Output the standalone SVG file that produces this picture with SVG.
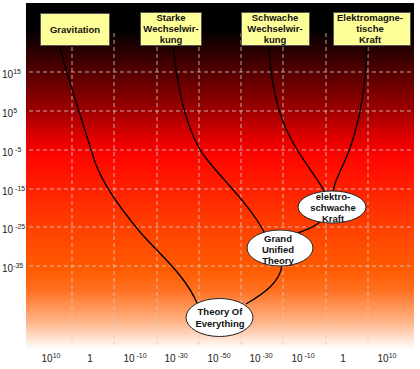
<svg xmlns="http://www.w3.org/2000/svg" width="420" height="369" viewBox="0 0 420 369">
<defs>
<linearGradient id="bg" x1="0" y1="0" x2="0" y2="1">
<stop offset="0" stop-color="#000000"/>
<stop offset="0.078" stop-color="#000000"/>
<stop offset="0.199" stop-color="#550000"/>
<stop offset="0.311" stop-color="#a00000"/>
<stop offset="0.409" stop-color="#f00000"/>
<stop offset="0.452" stop-color="#ff0800"/>
<stop offset="0.646" stop-color="#ff4000"/>
<stop offset="0.769" stop-color="#ff5c00"/>
<stop offset="0.827" stop-color="#ff7020"/>
<stop offset="0.914" stop-color="#ffb080"/>
<stop offset="0.986" stop-color="#fff4ee"/>
<stop offset="1" stop-color="#ffffff"/>
</linearGradient>
</defs>
<style>
.grid line{stroke:#d0d0d0;stroke-width:1;stroke-dasharray:4,3;stroke-opacity:0.8}
.tick{font-family:"Liberation Sans",Arial,sans-serif;font-size:10px;fill:#222}
.sup{font-size:7px}
.box rect{fill:#ffff99;stroke:#555;stroke-width:1}
.node ellipse{fill:#fff;stroke:#222;stroke-width:1}
.lbl{font-family:"Liberation Sans",Arial,sans-serif;font-size:9.5px;font-weight:bold;fill:#111;text-anchor:middle}
.edges path{fill:none;stroke:#000;stroke-width:1.4}
</style>
<rect x="0" y="0" width="420" height="369" fill="#fff"/>
<rect x="26" y="3" width="388" height="347" fill="url(#bg)"/>
<g class="grid">
<line x1="29" y1="72" x2="414" y2="72"/>
<line x1="29" y1="111" x2="414" y2="111"/>
<line x1="29" y1="150" x2="414" y2="150"/>
<line x1="29" y1="189" x2="414" y2="189"/>
<line x1="29" y1="227" x2="414" y2="227"/>
<line x1="29" y1="266" x2="414" y2="266"/>
<line x1="72" y1="33" x2="72" y2="345"/>
<line x1="114" y1="33" x2="114" y2="345"/>
<line x1="157" y1="33" x2="157" y2="345"/>
<line x1="199" y1="33" x2="199" y2="345"/>
<line x1="241" y1="33" x2="241" y2="345"/>
<line x1="283" y1="33" x2="283" y2="345"/>
<line x1="326" y1="33" x2="326" y2="345"/>
<line x1="368" y1="33" x2="368" y2="345"/>
</g>
<g id="yaxis" class="tick">
<text x="2" y="78">10<tspan class="sup" dy="-4">15</tspan></text>
<text x="2" y="117">10<tspan class="sup" dy="-4">5</tspan></text>
<text x="2" y="156">10<tspan class="sup" dy="-4"> -5</tspan></text>
<text x="2" y="195">10<tspan class="sup" dy="-4"> -15</tspan></text>
<text x="2" y="233">10<tspan class="sup" dy="-4"> -25</tspan></text>
<text x="2" y="272">10<tspan class="sup" dy="-4">-35</tspan></text>
</g>
<g id="xaxis" class="tick" text-anchor="middle">
<text x="51" y="362">10<tspan class="sup" dy="-4">10</tspan></text>
<text x="90" y="362">1</text>
<text x="135" y="362">10<tspan class="sup" dy="-4"> -10</tspan></text>
<text x="176" y="362">10<tspan class="sup" dy="-4"> -30</tspan></text>
<text x="219" y="362">10<tspan class="sup" dy="-4"> -50</tspan></text>
<text x="261" y="362">10<tspan class="sup" dy="-4"> -30</tspan></text>
<text x="303" y="362">10<tspan class="sup" dy="-4"> -10</tspan></text>
<text x="343" y="362">1</text>
<text x="387" y="362">10<tspan class="sup" dy="-4">10</tspan></text>
</g>
<g class="edges" id="connectors">
<path d="M59,45 C70,85 85,130 95,162 C103,185 120,208 140,232 C160,255 185,275 197,303"/>
<path d="M173,45 C177,85 185,130 205,157 C220,177 250,205 264,232"/>
<path d="M269,45 C270,80 278,115 290,137 C300,157 315,175 325,192"/>
<path d="M367,45 C366,85 360,120 350,148 C343,168 334,180 333,192"/>
<path d="M320,222 C313,228 305,230 298,233"/>
<path d="M282,265 C280,282 265,293 246,304"/>
</g>
<g id="gravitation" class="box">
<rect x="40.5" y="13.5" width="69" height="32"/>
<text class="lbl" x="75" y="33">Gravitation</text>
</g>
<g id="starke" class="box">
<rect x="140.5" y="12.5" width="61" height="33"/>
<text class="lbl" x="171" y="21">Starke</text>
<text class="lbl" x="171" y="32">Wechselwir-</text>
<text class="lbl" x="171" y="43">kung</text>
</g>
<g id="schwache" class="box">
<rect x="241.5" y="12.5" width="68" height="33"/>
<text class="lbl" x="275" y="21">Schwache</text>
<text class="lbl" x="275" y="32">Wechselwir-</text>
<text class="lbl" x="275" y="43">kung</text>
</g>
<g id="elektromagnetische" class="box">
<rect x="333.5" y="12.5" width="77" height="33"/>
<text class="lbl" x="370" y="21">Elektromagne-</text>
<text class="lbl" x="370" y="32">tische</text>
<text class="lbl" x="370" y="43">Kraft</text>
</g>
<g id="elektroschwach" class="node">
<ellipse cx="332" cy="207" rx="34" ry="16"/>
<text class="lbl" x="333" y="200">elektro-</text>
<text class="lbl" x="333" y="211">schwache</text>
<text class="lbl" x="333" y="222">Kraft</text>
</g>
<g id="gut" class="node">
<ellipse cx="280" cy="248" rx="33" ry="18"/>
<text class="lbl" x="278" y="242">Grand</text>
<text class="lbl" x="278" y="253">Unified</text>
<text class="lbl" x="278" y="264">Theory</text>
</g>
<g id="toe" class="node">
<ellipse cx="219.5" cy="317.5" rx="33.5" ry="19"/>
<text class="lbl" x="220" y="315">Theory Of</text>
<text class="lbl" x="220" y="327">Everything</text>
</g>
</svg>
